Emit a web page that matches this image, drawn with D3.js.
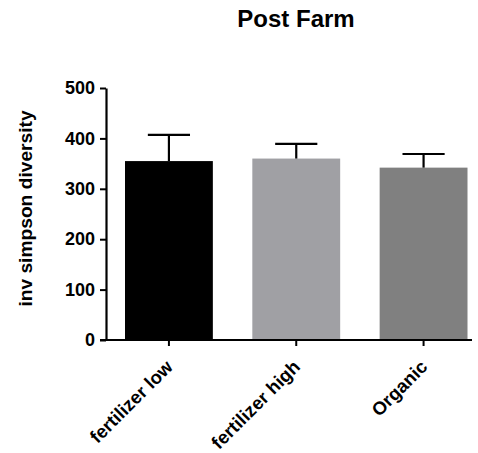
<!DOCTYPE html>
<html><head><meta charset="utf-8">
<script src="https://cdn.jsdelivr.net/npm/d3@7"></script>
<style>body{margin:0;background:#fff}svg{display:block}text{font-family:"Liberation Sans",Arial,sans-serif;font-weight:bold;fill:#000}</style>
</head><body><svg id="c" width="478" height="453"></svg>
<script>
const categories = ["fertilizer low","fertilizer high","Organic"];
const means = [355, 360, 342];
const errors = [52, 29, 27];
const colors = ["#000000","#a0a0a4","#808080"];
const yTicks = [0,100,200,300,400,500];
const title = "Post Farm";
const yLabel = "inv simpson diversity";

const svg = d3.select("#c");
const x0 = 106, x1 = 472, yTop = 88, yBot = 340;
const y = d3.scaleLinear().domain([0,500]).range([yBot,yTop]);
const x = d3.scaleBand().domain(categories).range([125, 467.5]).paddingInner(0.31).paddingOuter(0);

svg.append("text").attr("x",296).attr("y",27).attr("text-anchor","middle").style("font-size","24px").text(title);

// bars
svg.selectAll("rect.bar").data(categories).join("rect")
  .attr("x",d=>x(d)).attr("width",x.bandwidth())
  .attr("y",(d,i)=>y(means[i])).attr("height",(d,i)=>yBot-y(means[i]))
  .attr("fill",(d,i)=>colors[i]);

// error bars
const eg = svg.append("g").attr("stroke","#000").attr("stroke-width",2.2);
categories.forEach((d,i)=>{
  const cx = x(d)+x.bandwidth()/2, cw = x.bandwidth()*0.24;
  eg.append("line").attr("x1",cx).attr("x2",cx).attr("y1",y(means[i])).attr("y2",y(means[i]+errors[i]));
  eg.append("line").attr("x1",cx-cw).attr("x2",cx+cw).attr("y1",y(means[i]+errors[i])).attr("y2",y(means[i]+errors[i]));
});

// y axis
const ya = svg.append("g").attr("transform",`translate(${x0},0)`)
  .call(d3.axisLeft(y).tickValues(yTicks).tickSize(6).tickPadding(5).tickSizeOuter(0));
ya.select(".domain").attr("stroke","#000").attr("stroke-width",2.2);
ya.selectAll(".tick line").attr("stroke","#000").attr("stroke-width",2);
ya.selectAll(".tick text").style("font-size","18px").attr("font-family",null);

// x axis
const xa = svg.append("g").attr("transform",`translate(0,${yBot})`)
  .call(d3.axisBottom(x).tickSize(6).tickSizeOuter(0));
xa.select(".domain").attr("d",`M${x0-6},0H${x1}`).attr("stroke","#000").attr("stroke-width",2.2);
xa.selectAll(".tick line").attr("stroke","#000").attr("stroke-width",2);
xa.selectAll(".tick text").style("font-size","18.5px").attr("font-family",null)
  .attr("text-anchor","end").attr("x",0).attr("y",0).attr("dy","0").attr("transform","translate(5,28) rotate(-45)");

svg.append("text").attr("transform","translate(32,208.5) rotate(-90)").attr("text-anchor","middle")
  .style("font-size","19.2px").text(yLabel);
</script></body></html>
